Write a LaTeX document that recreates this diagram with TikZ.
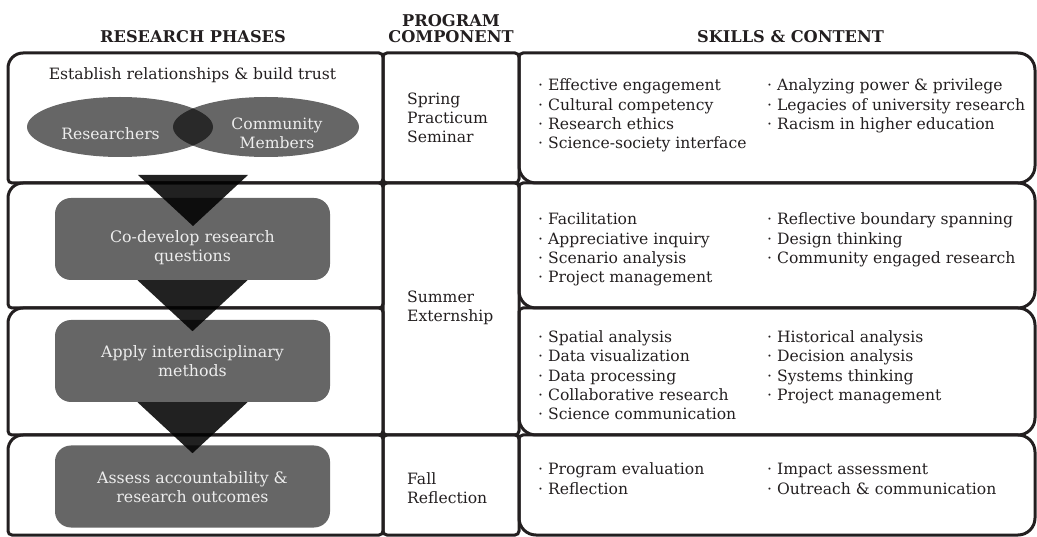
\documentclass[tikz,border=0pt]{standalone}
\usepackage{fontspec}
\setmainfont{DejaVu Serif}
\usetikzlibrary{calc, positioning, shapes.geometric}
\definecolor{ink}{HTML}{231F20}
\definecolor{boxgray}{HTML}{666666}
\definecolor{boxtext}{HTML}{EDEDED}
\tikzset{
    cell/.style={draw=ink, line width=3pt},
    head/.style={font=\fontsize{16.2}{16.5}\selectfont\bfseries, text=ink, inner sep=0pt, anchor=base},
    body/.style={font=\fontsize{15.6}{19}\selectfont, text=ink, inner sep=0pt, anchor=base west},
    venn/.style={ellipse, fill=black, fill opacity=0.6, minimum width=186pt, minimum height=60pt, inner sep=0pt},
    phase/.style={fill=boxgray, rounded corners=16pt, minimum width=275pt, minimum height=82pt, inner sep=0pt},
    phasetext/.style={align=center, text=boxtext, font=\fontsize{15.8}{18.8}\selectfont, inner sep=0pt},
    funnel/.style={fill=black, fill opacity=0.87}
}

\begin{document}
\begin{tikzpicture}[x=1pt, y=-1pt]
    \useasboundingbox (0,0) rectangle (1037,537);
    % table cells: x1/y1/x2/y2/left radius/right radius
    \foreach \xa/\ya/\xb/\yb/\ra/\rb in {
        8/53/383/183/15/4, 8/183/383/308/15/4, 8/308/383/435/15/4, 8/435/383/535/15/4,
        383/53/519/183/4/4, 383/183/519/435/4/4, 383/435/519/535/4/4,
        519/53/1035/183/4/17, 519/183/1035/308/4/17, 519/308/1035/435/4/17, 519/435/1035/535/4/17}{
    \draw[cell] ({(\xa+\xb)/2},\ya) [rounded corners=\rb pt] -- (\xb,\ya) -- (\xb,\yb) -- (\xa,\yb)
        [rounded corners=\ra pt] -- (\xa,\ya) -- cycle;}
    % headers
    \node[head] (hphase) at (193,43) {RESEARCH PHASES};
    \node[head] (hprog) at (451,26.5) {PROGRAM};
    \node[head] (hcomp) at (451,43) {COMPONENT};
    \node[head] (hskill) at (790.5,43) {SKILLS \& CONTENT};
    % research phases
    \node[body, anchor=base] (trust) at (192.5,80) {Establish relationships \& build trust};
    \node[venn] (res) at (120,127) {};
    \node[venn] (com) at (266,127) {};
    \node[body, anchor=base, text=boxtext] (reslbl) at (110.5,140) {Researchers};
    \node[body, anchor=base, text=boxtext] (comlbl) at (277,130) {Community};
    \node[body, anchor=base, text=boxtext] (memlbl) at (277,148.3) {Members};
    \node[phase] (codev) at (192.5,239) {};
    \node[phase] (apply) at (192.5,361) {};
    \node[phase] (assess) at (192.5,486.5) {};
    \node[phasetext] (codevtxt) at ($(codev)+(0,8.5)$) {Co-develop research\\questions};
    \node[phasetext] (applytxt) at ($(apply)+(0,0.5)$) {Apply interdisciplinary\\methods};
    \node[phasetext] (assesstxt) at ($(assess)+(0,0.5)$) {Assess accountability \&\\research outcomes};
    \coordinate (t1) at (193,175);
    \foreach \p in {t1, codev.south, apply.south}
        \fill[funnel] ($(\p)+(-55,0)$) -- ++(110,0) -- ++(-55,51) -- cycle;
    % program components
    \node[body] (spring) at (407,104.5) {Spring};
    \node[body] (pract) at (407,123.5) {Practicum};
    \node[body] (semin) at (407,142.5) {Seminar};
    \node[body] (summer) at (407,303) {Summer};
    \node[body] (extern) at (407,322) {Externship};
    \node[body] (fall) at (407,484) {Fall};
    \node[body] (reflect) at (407,503) {Reflection};
    % skills and content, two columns per row
    \foreach \r/\yb/\lista/\listb in {
        1/91/{Effective engagement, Cultural competency, Research ethics, Science-society interface}/{Analyzing power \& privilege, Legacies of university research, Racism in higher education},
        2/225/{Facilitation, Appreciative inquiry, Scenario analysis, Project management}/{Reflective boundary spanning, Design thinking, Community engaged research},
        3/342.5/{Spatial analysis, Data visualization, Data processing, Collaborative research, Science communication}/{Historical analysis, Decision analysis, Systems thinking, Project management},
        4/475/{Program evaluation, Reflection}/{Impact assessment, Outreach \& communication}}{
        \foreach \t [count=\i] in \lista
            \node[body] (s\r a\i) at (538,{\yb+19.3*(\i-1)}) {· \t};
        \foreach \t [count=\i] in \listb
            \node[body] (s\r b\i) at (767,{\yb+19.3*(\i-1)}) {· \t};
    }
\end{tikzpicture}
\end{document}
